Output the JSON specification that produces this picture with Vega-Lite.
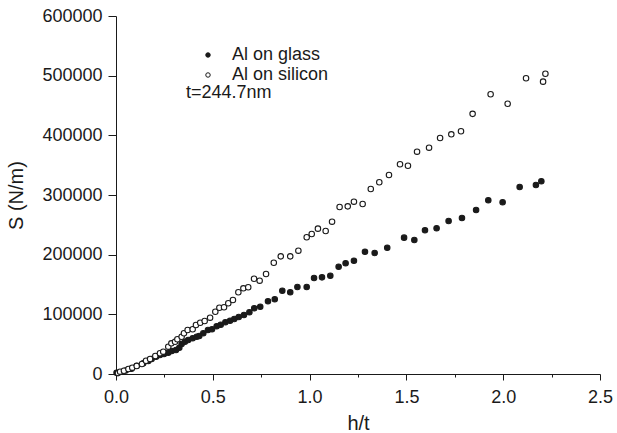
{
  "$schema": "https://vega.github.io/schema/vega-lite/v6.json",
  "width": 484,
  "height": 358,
  "autosize": "none",
  "padding": {"left": 116, "top": 16, "right": 17, "bottom": 59},
  "background": "white",
  "config": {
    "view": {"stroke": null},
    "font": "Liberation Sans",
    "axis": {"grid": false}
  },
  "datasets": {
    "pts": [
      {"x": 0.003, "y": 2000, "s": "Al on glass"},
      {"x": 0.05, "y": 6000, "s": "Al on glass"},
      {"x": 0.08, "y": 9000, "s": "Al on glass"},
      {"x": 0.107, "y": 13900, "s": "Al on glass"},
      {"x": 0.141, "y": 17900, "s": "Al on glass"},
      {"x": 0.167, "y": 21800, "s": "Al on glass"},
      {"x": 0.184, "y": 25100, "s": "Al on glass"},
      {"x": 0.207, "y": 29000, "s": "Al on glass"},
      {"x": 0.227, "y": 31800, "s": "Al on glass"},
      {"x": 0.248, "y": 33500, "s": "Al on glass"},
      {"x": 0.270, "y": 35700, "s": "Al on glass"},
      {"x": 0.288, "y": 38500, "s": "Al on glass"},
      {"x": 0.310, "y": 40200, "s": "Al on glass"},
      {"x": 0.327, "y": 44100, "s": "Al on glass"},
      {"x": 0.339, "y": 50300, "s": "Al on glass"},
      {"x": 0.356, "y": 54100, "s": "Al on glass"},
      {"x": 0.373, "y": 57000, "s": "Al on glass"},
      {"x": 0.396, "y": 59800, "s": "Al on glass"},
      {"x": 0.417, "y": 62500, "s": "Al on glass"},
      {"x": 0.430, "y": 63700, "s": "Al on glass"},
      {"x": 0.451, "y": 68200, "s": "Al on glass"},
      {"x": 0.475, "y": 73700, "s": "Al on glass"},
      {"x": 0.496, "y": 74900, "s": "Al on glass"},
      {"x": 0.520, "y": 79900, "s": "Al on glass"},
      {"x": 0.541, "y": 82600, "s": "Al on glass"},
      {"x": 0.565, "y": 86600, "s": "Al on glass"},
      {"x": 0.589, "y": 89300, "s": "Al on glass"},
      {"x": 0.611, "y": 92200, "s": "Al on glass"},
      {"x": 0.634, "y": 95500, "s": "Al on glass"},
      {"x": 0.661, "y": 98900, "s": "Al on glass"},
      {"x": 0.689, "y": 103400, "s": "Al on glass"},
      {"x": 0.714, "y": 110100, "s": "Al on glass"},
      {"x": 0.745, "y": 112800, "s": "Al on glass"},
      {"x": 0.785, "y": 121800, "s": "Al on glass"},
      {"x": 0.820, "y": 125200, "s": "Al on glass"},
      {"x": 0.859, "y": 139600, "s": "Al on glass"},
      {"x": 0.900, "y": 136900, "s": "Al on glass"},
      {"x": 0.937, "y": 145800, "s": "Al on glass"},
      {"x": 0.985, "y": 145800, "s": "Al on glass"},
      {"x": 1.023, "y": 160900, "s": "Al on glass"},
      {"x": 1.064, "y": 162000, "s": "Al on glass"},
      {"x": 1.107, "y": 164800, "s": "Al on glass"},
      {"x": 1.150, "y": 179800, "s": "Al on glass"},
      {"x": 1.186, "y": 185500, "s": "Al on glass"},
      {"x": 1.229, "y": 189900, "s": "Al on glass"},
      {"x": 1.286, "y": 205000, "s": "Al on glass"},
      {"x": 1.336, "y": 202800, "s": "Al on glass"},
      {"x": 1.401, "y": 211700, "s": "Al on glass"},
      {"x": 1.488, "y": 228500, "s": "Al on glass"},
      {"x": 1.541, "y": 224600, "s": "Al on glass"},
      {"x": 1.596, "y": 240800, "s": "Al on glass"},
      {"x": 1.656, "y": 244200, "s": "Al on glass"},
      {"x": 1.718, "y": 256500, "s": "Al on glass"},
      {"x": 1.787, "y": 261500, "s": "Al on glass"},
      {"x": 1.860, "y": 274900, "s": "Al on glass"},
      {"x": 1.923, "y": 291100, "s": "Al on glass"},
      {"x": 1.997, "y": 287800, "s": "Al on glass"},
      {"x": 2.085, "y": 313400, "s": "Al on glass"},
      {"x": 2.169, "y": 316800, "s": "Al on glass"},
      {"x": 2.197, "y": 323000, "s": "Al on glass"},
      {"x": 0.010, "y": 1500, "s": "Al on silicon"},
      {"x": 0.021, "y": 3900, "s": "Al on silicon"},
      {"x": 0.041, "y": 5500, "s": "Al on silicon"},
      {"x": 0.064, "y": 8400, "s": "Al on silicon"},
      {"x": 0.084, "y": 10600, "s": "Al on silicon"},
      {"x": 0.107, "y": 13400, "s": "Al on silicon"},
      {"x": 0.134, "y": 16800, "s": "Al on silicon"},
      {"x": 0.155, "y": 22300, "s": "Al on silicon"},
      {"x": 0.176, "y": 25100, "s": "Al on silicon"},
      {"x": 0.203, "y": 30200, "s": "Al on silicon"},
      {"x": 0.227, "y": 34700, "s": "Al on silicon"},
      {"x": 0.244, "y": 37400, "s": "Al on silicon"},
      {"x": 0.270, "y": 45800, "s": "Al on silicon"},
      {"x": 0.286, "y": 51400, "s": "Al on silicon"},
      {"x": 0.305, "y": 54100, "s": "Al on silicon"},
      {"x": 0.317, "y": 58200, "s": "Al on silicon"},
      {"x": 0.339, "y": 62500, "s": "Al on silicon"},
      {"x": 0.351, "y": 68200, "s": "Al on silicon"},
      {"x": 0.370, "y": 73700, "s": "Al on silicon"},
      {"x": 0.396, "y": 74900, "s": "Al on silicon"},
      {"x": 0.413, "y": 82100, "s": "Al on silicon"},
      {"x": 0.435, "y": 86000, "s": "Al on silicon"},
      {"x": 0.458, "y": 88800, "s": "Al on silicon"},
      {"x": 0.486, "y": 94400, "s": "Al on silicon"},
      {"x": 0.513, "y": 104400, "s": "Al on silicon"},
      {"x": 0.534, "y": 111100, "s": "Al on silicon"},
      {"x": 0.558, "y": 111800, "s": "Al on silicon"},
      {"x": 0.580, "y": 118500, "s": "Al on silicon"},
      {"x": 0.604, "y": 124000, "s": "Al on silicon"},
      {"x": 0.632, "y": 137000, "s": "Al on silicon"},
      {"x": 0.658, "y": 143600, "s": "Al on silicon"},
      {"x": 0.683, "y": 145300, "s": "Al on silicon"},
      {"x": 0.713, "y": 159700, "s": "Al on silicon"},
      {"x": 0.742, "y": 156400, "s": "Al on silicon"},
      {"x": 0.775, "y": 167600, "s": "Al on silicon"},
      {"x": 0.815, "y": 186500, "s": "Al on silicon"},
      {"x": 0.851, "y": 197200, "s": "Al on silicon"},
      {"x": 0.900, "y": 197200, "s": "Al on silicon"},
      {"x": 0.942, "y": 206700, "s": "Al on silicon"},
      {"x": 0.985, "y": 229100, "s": "Al on silicon"},
      {"x": 1.011, "y": 234600, "s": "Al on silicon"},
      {"x": 1.043, "y": 243600, "s": "Al on silicon"},
      {"x": 1.083, "y": 239700, "s": "Al on silicon"},
      {"x": 1.116, "y": 255300, "s": "Al on silicon"},
      {"x": 1.155, "y": 279900, "s": "Al on silicon"},
      {"x": 1.197, "y": 281000, "s": "Al on silicon"},
      {"x": 1.229, "y": 288800, "s": "Al on silicon"},
      {"x": 1.274, "y": 284900, "s": "Al on silicon"},
      {"x": 1.316, "y": 310000, "s": "Al on silicon"},
      {"x": 1.360, "y": 321300, "s": "Al on silicon"},
      {"x": 1.410, "y": 333500, "s": "Al on silicon"},
      {"x": 1.467, "y": 351500, "s": "Al on silicon"},
      {"x": 1.508, "y": 349100, "s": "Al on silicon"},
      {"x": 1.555, "y": 372600, "s": "Al on silicon"},
      {"x": 1.617, "y": 379300, "s": "Al on silicon"},
      {"x": 1.674, "y": 395500, "s": "Al on silicon"},
      {"x": 1.732, "y": 401700, "s": "Al on silicon"},
      {"x": 1.782, "y": 406800, "s": "Al on silicon"},
      {"x": 1.842, "y": 436000, "s": "Al on silicon"},
      {"x": 1.935, "y": 468800, "s": "Al on silicon"},
      {"x": 2.023, "y": 453000, "s": "Al on silicon"},
      {"x": 2.118, "y": 495600, "s": "Al on silicon"},
      {"x": 2.206, "y": 490000, "s": "Al on silicon"},
      {"x": 2.218, "y": 503300, "s": "Al on silicon"}
    ],
    "note": [
      {"x": 0.3616, "y": 470400, "t": "t=244.7nm"}
    ]
  },
  "layer": [
    {
      "data": {"name": "pts"},
      "mark": {"type": "point", "filled": true, "size": 30, "stroke": "#1a1a1a", "strokeWidth": 1.1, "opacity": 1, "shape": "circle"},
      "encoding": {
        "x": {
          "field": "x", "type": "quantitative",
          "scale": {"domain": [0, 2.5], "nice": false, "zero": false},
          "axis": {
            "values": [0, 0.25, 0.5, 0.75, 1, 1.25, 1.5, 1.75, 2, 2.25, 2.5],
            "labelExpr": "datum.value % 0.5 === 0 ? format(datum.value, '.1f') : ''",
            "tickSize": {"condition": {"test": "datum.value % 0.5 !== 0", "value": 3}, "value": 6},
            "labelPadding": 8,
            "labelFontSize": 18,
            "labelColor": "#1a1a1a",
            "labelFlush": false,
            "labelOverlap": false,
            "labelBound": false,
            "domainColor": "#1a1a1a",
            "tickColor": "#1a1a1a",
            "title": "h/t",
            "titleFontSize": 20,
            "titleFontWeight": "normal",
            "titleColor": "#1a1a1a",
            "titlePadding": 7
          }
        },
        "y": {
          "field": "y", "type": "quantitative",
          "scale": {"domain": [0, 600000], "nice": false, "zero": false},
          "axis": {
            "values": [0, 50000, 100000, 150000, 200000, 250000, 300000, 350000, 400000, 450000, 500000, 550000, 600000],
            "labelExpr": "datum.value % 100000 === 0 ? format(datum.value, 'd') : ''",
            "tickSize": {"condition": {"test": "datum.value % 100000 !== 0", "value": 4}, "value": 8},
            "labelPadding": 6,
            "labelFontSize": 18,
            "labelColor": "#1a1a1a",
            "labelFlush": false,
            "labelOverlap": false,
            "labelBound": false,
            "domainColor": "#1a1a1a",
            "tickColor": "#1a1a1a",
            "title": "S (N/m)",
            "titleFontSize": 20,
            "titleFontWeight": "normal",
            "titleColor": "#1a1a1a",
            "titlePadding": 15
          }
        },
        "fill": {
          "field": "s", "type": "nominal",
          "scale": {"domain": ["Al on glass", "Al on silicon"], "range": ["#1a1a1a", "#ffffff"]},
          "legend": {
            "orient": "none",
            "legendX": 83,
            "legendY": 30,
            "title": null,
            "padding": 0,
            "labelFontSize": 18,
            "labelFont": "Liberation Sans",
            "labelColor": "#1a1a1a",
            "symbolSize": 20,
            "symbolType": "circle",
            "symbolStrokeColor": "#1a1a1a",
            "symbolStrokeWidth": 1,
            "labelOffset": 15,
            "rowPadding": 2
          }
        }
      }
    },
    {
      "data": {"name": "note"},
      "mark": {"type": "text", "align": "left", "baseline": "middle", "fontSize": 18, "font": "Liberation Sans", "color": "#1a1a1a"},
      "encoding": {
        "x": {"field": "x", "type": "quantitative"},
        "y": {"field": "y", "type": "quantitative"},
        "text": {"field": "t"}
      }
    }
  ]
}
